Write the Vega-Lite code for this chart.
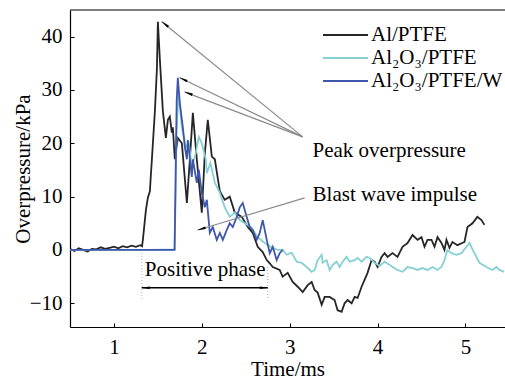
{
  "$schema": "https://vega.github.io/schema/vega-lite/v6.json",
  "width": 435,
  "height": 317,
  "autosize": {"type": "none"},
  "padding": {"left": 70, "top": 10, "right": 0, "bottom": 54},
  "background": "white",
  "config": {
    "view": {"stroke": null},
    "axis": {
      "labelFontSize": 21, "titleFontSize": 21, "titleFontWeight": "normal",
      "labelColor": "black", "titleColor": "black",
      "domainColor": "black", "tickColor": "black", "domainWidth": 1.2,
      "grid": false, "tickSize": -4
    }
  },
  "datasets": {
    "series": [
      {"s":"Al/PTFE","t":0.5,"v":0.2},{"s":"Al/PTFE","t":0.55,"v":-0.2},{"s":"Al/PTFE","t":0.6,"v":0.3},{"s":"Al/PTFE","t":0.65,"v":0},{"s":"Al/PTFE","t":0.7,"v":-0.3},{"s":"Al/PTFE","t":0.75,"v":0.2},{"s":"Al/PTFE","t":0.8,"v":0.1},{"s":"Al/PTFE","t":0.85,"v":0.5},{"s":"Al/PTFE","t":0.9,"v":0.2},{"s":"Al/PTFE","t":0.95,"v":0.4},{"s":"Al/PTFE","t":1.0,"v":0.6},{"s":"Al/PTFE","t":1.05,"v":0.3},{"s":"Al/PTFE","t":1.1,"v":0.7},{"s":"Al/PTFE","t":1.15,"v":0.5},{"s":"Al/PTFE","t":1.2,"v":0.8},{"s":"Al/PTFE","t":1.25,"v":0.6},{"s":"Al/PTFE","t":1.3,"v":0.9},{"s":"Al/PTFE","t":1.32,"v":0.7},{"s":"Al/PTFE","t":1.33,"v":2},{"s":"Al/PTFE","t":1.364,"v":7.5},{"s":"Al/PTFE","t":1.386,"v":9.8},{"s":"Al/PTFE","t":1.409,"v":11},{"s":"Al/PTFE","t":1.42,"v":14},{"s":"Al/PTFE","t":1.432,"v":17},{"s":"Al/PTFE","t":1.466,"v":26},{"s":"Al/PTFE","t":1.489,"v":34},{"s":"Al/PTFE","t":1.5,"v":42.8},{"s":"Al/PTFE","t":1.523,"v":35.6},{"s":"Al/PTFE","t":1.557,"v":26},{"s":"Al/PTFE","t":1.591,"v":21},{"s":"Al/PTFE","t":1.614,"v":24.4},{"s":"Al/PTFE","t":1.636,"v":25},{"s":"Al/PTFE","t":1.659,"v":22},{"s":"Al/PTFE","t":1.67,"v":23},{"s":"Al/PTFE","t":1.693,"v":17},{"s":"Al/PTFE","t":1.727,"v":21},{"s":"Al/PTFE","t":1.773,"v":20},{"s":"Al/PTFE","t":1.83,"v":8.8},{"s":"Al/PTFE","t":1.864,"v":17},{"s":"Al/PTFE","t":1.898,"v":25.7},{"s":"Al/PTFE","t":1.943,"v":17},{"s":"Al/PTFE","t":2.0,"v":7},{"s":"Al/PTFE","t":2.034,"v":18},{"s":"Al/PTFE","t":2.068,"v":24.4},{"s":"Al/PTFE","t":2.114,"v":17.5},{"s":"Al/PTFE","t":2.148,"v":17},{"s":"Al/PTFE","t":2.205,"v":11},{"s":"Al/PTFE","t":2.261,"v":9.4},{"s":"Al/PTFE","t":2.318,"v":10},{"s":"Al/PTFE","t":2.375,"v":7},{"s":"Al/PTFE","t":2.455,"v":6.2},{"s":"Al/PTFE","t":2.523,"v":4.3},{"s":"Al/PTFE","t":2.58,"v":3.2},{"s":"Al/PTFE","t":2.636,"v":0.6},{"s":"Al/PTFE","t":2.693,"v":-0.4},{"s":"Al/PTFE","t":2.739,"v":-1.9},{"s":"Al/PTFE","t":2.773,"v":-2.5},{"s":"Al/PTFE","t":2.807,"v":-3.2},{"s":"Al/PTFE","t":2.886,"v":-3.75},{"s":"Al/PTFE","t":2.92,"v":-5},{"s":"Al/PTFE","t":2.977,"v":-4.3},{"s":"Al/PTFE","t":3.034,"v":-6},{"s":"Al/PTFE","t":3.091,"v":-6.9},{"s":"Al/PTFE","t":3.148,"v":-7.9},{"s":"Al/PTFE","t":3.205,"v":-6.6},{"s":"Al/PTFE","t":3.25,"v":-6},{"s":"Al/PTFE","t":3.284,"v":-7.5},{"s":"Al/PTFE","t":3.318,"v":-8},{"s":"Al/PTFE","t":3.364,"v":-10.3},{"s":"Al/PTFE","t":3.398,"v":-8.8},{"s":"Al/PTFE","t":3.455,"v":-8.8},{"s":"Al/PTFE","t":3.511,"v":-9.4},{"s":"Al/PTFE","t":3.545,"v":-11.3},{"s":"Al/PTFE","t":3.591,"v":-11.6},{"s":"Al/PTFE","t":3.625,"v":-10},{"s":"Al/PTFE","t":3.659,"v":-9.4},{"s":"Al/PTFE","t":3.705,"v":-10},{"s":"Al/PTFE","t":3.739,"v":-8.8},{"s":"Al/PTFE","t":3.773,"v":-9},{"s":"Al/PTFE","t":3.818,"v":-6.9},{"s":"Al/PTFE","t":3.852,"v":-5.6},{"s":"Al/PTFE","t":3.886,"v":-4.3},{"s":"Al/PTFE","t":3.932,"v":-1.9},{"s":"Al/PTFE","t":3.966,"v":-2.2},{"s":"Al/PTFE","t":4.0,"v":-3.2},{"s":"Al/PTFE","t":4.045,"v":-1.3},{"s":"Al/PTFE","t":4.08,"v":-0.6},{"s":"Al/PTFE","t":4.114,"v":-1.3},{"s":"Al/PTFE","t":4.17,"v":-0.6},{"s":"Al/PTFE","t":4.227,"v":-1.3},{"s":"Al/PTFE","t":4.284,"v":0.6},{"s":"Al/PTFE","t":4.341,"v":1.3},{"s":"Al/PTFE","t":4.398,"v":2.8},{"s":"Al/PTFE","t":4.455,"v":1.9},{"s":"Al/PTFE","t":4.5,"v":2.4},{"s":"Al/PTFE","t":4.534,"v":0.6},{"s":"Al/PTFE","t":4.568,"v":1.9},{"s":"Al/PTFE","t":4.614,"v":1.9},{"s":"Al/PTFE","t":4.648,"v":0.6},{"s":"Al/PTFE","t":4.682,"v":2.4},{"s":"Al/PTFE","t":4.727,"v":1.3},{"s":"Al/PTFE","t":4.761,"v":0},{"s":"Al/PTFE","t":4.784,"v":1.9},{"s":"Al/PTFE","t":4.818,"v":0.4},{"s":"Al/PTFE","t":4.852,"v":1.5},{"s":"Al/PTFE","t":4.909,"v":0.9},{"s":"Al/PTFE","t":4.989,"v":1.5},{"s":"Al/PTFE","t":5.023,"v":4.3},{"s":"Al/PTFE","t":5.08,"v":5},{"s":"Al/PTFE","t":5.136,"v":6.2},{"s":"Al/PTFE","t":5.182,"v":5.6},{"s":"Al/PTFE","t":5.216,"v":4.7},
      {"s":"Al₂O₃/PTFE","t":0.5,"v":0},{"s":"Al₂O₃/PTFE","t":0.8,"v":0},{"s":"Al₂O₃/PTFE","t":1.1,"v":0},{"s":"Al₂O₃/PTFE","t":1.4,"v":0},{"s":"Al₂O₃/PTFE","t":1.69,"v":0.1},{"s":"Al₂O₃/PTFE","t":1.702,"v":10},{"s":"Al₂O₃/PTFE","t":1.712,"v":22},{"s":"Al₂O₃/PTFE","t":1.735,"v":29.6},{"s":"Al₂O₃/PTFE","t":1.773,"v":23},{"s":"Al₂O₃/PTFE","t":1.818,"v":19.3},{"s":"Al₂O₃/PTFE","t":1.852,"v":20},{"s":"Al₂O₃/PTFE","t":1.886,"v":15.6},{"s":"Al₂O₃/PTFE","t":1.932,"v":18.2},{"s":"Al₂O₃/PTFE","t":1.966,"v":21.2},{"s":"Al₂O₃/PTFE","t":2.0,"v":20},{"s":"Al₂O₃/PTFE","t":2.045,"v":17},{"s":"Al₂O₃/PTFE","t":2.057,"v":14.4},{"s":"Al₂O₃/PTFE","t":2.098,"v":16.3},{"s":"Al₂O₃/PTFE","t":2.148,"v":12.6},{"s":"Al₂O₃/PTFE","t":2.205,"v":10.7},{"s":"Al₂O₃/PTFE","t":2.261,"v":8},{"s":"Al₂O₃/PTFE","t":2.318,"v":6.2},{"s":"Al₂O₃/PTFE","t":2.375,"v":7},{"s":"Al₂O₃/PTFE","t":2.432,"v":5.6},{"s":"Al₂O₃/PTFE","t":2.489,"v":5},{"s":"Al₂O₃/PTFE","t":2.557,"v":4.3},{"s":"Al₂O₃/PTFE","t":2.636,"v":2.4},{"s":"Al₂O₃/PTFE","t":2.716,"v":1.3},{"s":"Al₂O₃/PTFE","t":2.784,"v":0.6},{"s":"Al₂O₃/PTFE","t":2.864,"v":0},{"s":"Al₂O₃/PTFE","t":2.92,"v":0},{"s":"Al₂O₃/PTFE","t":2.966,"v":-0.9},{"s":"Al₂O₃/PTFE","t":3.02,"v":-0.5},{"s":"Al₂O₃/PTFE","t":3.08,"v":-2.2},{"s":"Al₂O₃/PTFE","t":3.136,"v":-2.4},{"s":"Al₂O₃/PTFE","t":3.193,"v":-3.2},{"s":"Al₂O₃/PTFE","t":3.25,"v":-4.1},{"s":"Al₂O₃/PTFE","t":3.284,"v":-3.75},{"s":"Al₂O₃/PTFE","t":3.318,"v":-1.9},{"s":"Al₂O₃/PTFE","t":3.364,"v":-0.9},{"s":"Al₂O₃/PTFE","t":3.375,"v":-2.4},{"s":"Al₂O₃/PTFE","t":3.42,"v":-1.9},{"s":"Al₂O₃/PTFE","t":3.455,"v":-3.75},{"s":"Al₂O₃/PTFE","t":3.489,"v":-2.8},{"s":"Al₂O₃/PTFE","t":3.534,"v":-2.2},{"s":"Al₂O₃/PTFE","t":3.568,"v":-3.2},{"s":"Al₂O₃/PTFE","t":3.602,"v":-2.2},{"s":"Al₂O₃/PTFE","t":3.648,"v":-1.3},{"s":"Al₂O₃/PTFE","t":3.682,"v":-2.2},{"s":"Al₂O₃/PTFE","t":3.739,"v":-1.9},{"s":"Al₂O₃/PTFE","t":3.773,"v":-1.5},{"s":"Al₂O₃/PTFE","t":3.818,"v":-2.2},{"s":"Al₂O₃/PTFE","t":3.875,"v":-1.3},{"s":"Al₂O₃/PTFE","t":3.909,"v":-1.5},{"s":"Al₂O₃/PTFE","t":3.966,"v":-2.4},{"s":"Al₂O₃/PTFE","t":4.023,"v":-3},{"s":"Al₂O₃/PTFE","t":4.08,"v":-2.2},{"s":"Al₂O₃/PTFE","t":4.136,"v":-2.8},{"s":"Al₂O₃/PTFE","t":4.17,"v":-3.2},{"s":"Al₂O₃/PTFE","t":4.227,"v":-3.75},{"s":"Al₂O₃/PTFE","t":4.284,"v":-4.1},{"s":"Al₂O₃/PTFE","t":4.341,"v":-3.2},{"s":"Al₂O₃/PTFE","t":4.398,"v":-3.4},{"s":"Al₂O₃/PTFE","t":4.455,"v":-3.75},{"s":"Al₂O₃/PTFE","t":4.511,"v":-3.4},{"s":"Al₂O₃/PTFE","t":4.568,"v":-3.75},{"s":"Al₂O₃/PTFE","t":4.625,"v":-3.2},{"s":"Al₂O₃/PTFE","t":4.682,"v":-3.75},{"s":"Al₂O₃/PTFE","t":4.727,"v":-3.2},{"s":"Al₂O₃/PTFE","t":4.761,"v":-1.9},{"s":"Al₂O₃/PTFE","t":4.795,"v":0},{"s":"Al₂O₃/PTFE","t":4.841,"v":-0.6},{"s":"Al₂O₃/PTFE","t":4.898,"v":-0.9},{"s":"Al₂O₃/PTFE","t":4.955,"v":-0.6},{"s":"Al₂O₃/PTFE","t":5.011,"v":0.6},{"s":"Al₂O₃/PTFE","t":5.045,"v":1.3},{"s":"Al₂O₃/PTFE","t":5.102,"v":-0.6},{"s":"Al₂O₃/PTFE","t":5.159,"v":-2.4},{"s":"Al₂O₃/PTFE","t":5.239,"v":-3.2},{"s":"Al₂O₃/PTFE","t":5.307,"v":-3.75},{"s":"Al₂O₃/PTFE","t":5.352,"v":-3.2},{"s":"Al₂O₃/PTFE","t":5.386,"v":-3.75},{"s":"Al₂O₃/PTFE","t":5.44,"v":-4.1},
      {"s":"Al₂O₃/PTFE/W","t":0.5,"v":0},{"s":"Al₂O₃/PTFE/W","t":0.8,"v":0},{"s":"Al₂O₃/PTFE/W","t":1.1,"v":0},{"s":"Al₂O₃/PTFE/W","t":1.4,"v":0},{"s":"Al₂O₃/PTFE/W","t":1.69,"v":0},{"s":"Al₂O₃/PTFE/W","t":1.7,"v":12},{"s":"Al₂O₃/PTFE/W","t":1.714,"v":28},{"s":"Al₂O₃/PTFE/W","t":1.727,"v":32.3},{"s":"Al₂O₃/PTFE/W","t":1.75,"v":27.5},{"s":"Al₂O₃/PTFE/W","t":1.784,"v":23},{"s":"Al₂O₃/PTFE/W","t":1.807,"v":19.3},{"s":"Al₂O₃/PTFE/W","t":1.83,"v":17},{"s":"Al₂O₃/PTFE/W","t":1.841,"v":20.6},{"s":"Al₂O₃/PTFE/W","t":1.886,"v":13.7},{"s":"Al₂O₃/PTFE/W","t":1.898,"v":17},{"s":"Al₂O₃/PTFE/W","t":1.943,"v":12.6},{"s":"Al₂O₃/PTFE/W","t":1.966,"v":15},{"s":"Al₂O₃/PTFE/W","t":2.0,"v":10.7},{"s":"Al₂O₃/PTFE/W","t":2.034,"v":8},{"s":"Al₂O₃/PTFE/W","t":2.057,"v":9.4},{"s":"Al₂O₃/PTFE/W","t":2.091,"v":3.2},{"s":"Al₂O₃/PTFE/W","t":2.125,"v":4.3},{"s":"Al₂O₃/PTFE/W","t":2.17,"v":1.9},{"s":"Al₂O₃/PTFE/W","t":2.205,"v":3.2},{"s":"Al₂O₃/PTFE/W","t":2.239,"v":1.9},{"s":"Al₂O₃/PTFE/W","t":2.284,"v":3.75},{"s":"Al₂O₃/PTFE/W","t":2.318,"v":5},{"s":"Al₂O₃/PTFE/W","t":2.352,"v":4.3},{"s":"Al₂O₃/PTFE/W","t":2.398,"v":6.2},{"s":"Al₂O₃/PTFE/W","t":2.432,"v":8},{"s":"Al₂O₃/PTFE/W","t":2.466,"v":8.8},{"s":"Al₂O₃/PTFE/W","t":2.511,"v":6.2},{"s":"Al₂O₃/PTFE/W","t":2.545,"v":4.3},{"s":"Al₂O₃/PTFE/W","t":2.58,"v":3.75},{"s":"Al₂O₃/PTFE/W","t":2.625,"v":1.9},{"s":"Al₂O₃/PTFE/W","t":2.659,"v":3.2},{"s":"Al₂O₃/PTFE/W","t":2.693,"v":5.6},{"s":"Al₂O₃/PTFE/W","t":2.739,"v":1.9},{"s":"Al₂O₃/PTFE/W","t":2.773,"v":-0.6},{"s":"Al₂O₃/PTFE/W","t":2.807,"v":0.6},{"s":"Al₂O₃/PTFE/W","t":2.852,"v":-1.9},{"s":"Al₂O₃/PTFE/W","t":2.886,"v":-0.6},{"s":"Al₂O₃/PTFE/W","t":2.92,"v":0}
    ],
    "pointers": [
      {"t":3.148,"v":21.2,"t2":1.545,"v2":42.8},
      {"t":3.148,"v":21.2,"t2":1.75,"v2":32.3},
      {"t":3.148,"v":21.2,"t2":1.807,"v2":29.6},
      {"t":3.17,"v":9.76,"t2":1.955,"v2":3.75}
    ],
    "heads": [
      {"t":1.591,"v":42.2,"a":309},
      {"t":1.801,"v":31.9,"a":295.6},
      {"t":1.86,"v":29.3,"a":291},
      {"t":2.009,"v":4.0,"a":253.4},
      {"t":1.375,"v":-7.1,"a":270},
      {"t":2.693,"v":-7.1,"a":90}
    ],
    "phase": [{"t":1.318,"v":-7.1,"t2":2.75,"v2":-7.1}],
    "guides": [
      {"t":1.318,"v":-0.6,"t2":1.318,"v2":-9.2},
      {"t":2.75,"v":-3.2,"t2":2.75,"v2":-9.2}
    ],
    "labels": [
      {"t":3.26,"v":18.6,"label":"Peak overpressure"},
      {"t":3.26,"v":10.3,"label":"Blast wave impulse"},
      {"t":1.352,"v":-3.75,"label":"Positive phase"}
    ],
    "frame": [{"v":45}]
  },
  "layer": [
    {
      "data": {"name": "series"},
      "mark": {"type": "line", "strokeWidth": 1.8, "clip": true},
      "encoding": {
        "x": {"field": "t", "type": "quantitative", "scale": {"domain": [0.5, 5.45], "nice": false, "zero": false},
              "axis": {"values": [1,2,3,4,5], "format": "d", "title": "Time/ms", "labelPadding": 13, "titlePadding": 1,
                       "labelFont": "Liberation Serif", "labelFontWeight": 400,
                       "titleFont": "Liberation Serif", "titleFontWeight": 400}},
        "y": {"field": "v", "type": "quantitative", "scale": {"domain": [-14.45, 45], "nice": false, "zero": false},
              "axis": {"values": [-10,0,10,20,30,40], "format": "d", "title": "Overpressure/kPa", "labelPadding": 12, "titlePadding": -4,
                       "labelFont": "Liberation Serif", "labelFontWeight": 400,
                       "titleFont": "Liberation Serif", "titleFontWeight": 400}},
        "color": {"field": "s", "type": "nominal",
          "scale": {"domain": ["Al/PTFE", "Al₂O₃/PTFE", "Al₂O₃/PTFE/W"], "range": ["#262626", "#86d0d3", "#3f56ad"]},
          "legend": {"orient": "none", "legendX": 263, "legendY": 12.5, "title": null,
            "labelFont": "Liberation Serif", "labelFontWeight": "normal", "labelFontSize": 21, "labelColor": "black",
            "symbolType": "M-2,0L2,0", "symbolSize": 506, "symbolStrokeWidth": 2,
            "rowPadding": -1.5, "labelOffset": 13, "labelLimit": 300}}
      }
    },
    {
      "data": {"name": "frame"},
      "mark": {"type": "rule", "color": "black", "strokeWidth": 1.2},
      "encoding": {"y": {"field": "v", "type": "quantitative"}}
    },
    {
      "data": {"name": "pointers"},
      "mark": {"type": "rule", "color": "#8a8a8a", "strokeWidth": 1.2},
      "encoding": {
        "x": {"field": "t", "type": "quantitative"}, "y": {"field": "v", "type": "quantitative"},
        "x2": {"field": "t2"}, "y2": {"field": "v2"}
      }
    },
    {
      "data": {"name": "guides"},
      "mark": {"type": "rule", "color": "#aaaaaa", "strokeWidth": 1, "strokeDash": [1, 2]},
      "encoding": {
        "x": {"field": "t", "type": "quantitative"}, "y": {"field": "v", "type": "quantitative"},
        "x2": {"field": "t2"}, "y2": {"field": "v2"}
      }
    },
    {
      "data": {"name": "phase"},
      "mark": {"type": "rule", "color": "black", "strokeWidth": 1.5},
      "encoding": {
        "x": {"field": "t", "type": "quantitative"}, "y": {"field": "v", "type": "quantitative"},
        "x2": {"field": "t2"}, "y2": {"field": "v2"}
      }
    },
    {
      "data": {"name": "heads"},
      "mark": {"type": "point", "shape": "wedge", "filled": true, "color": "black", "size": 110, "opacity": 1},
      "encoding": {
        "x": {"field": "t", "type": "quantitative"}, "y": {"field": "v", "type": "quantitative"},
        "angle": {"field": "a", "type": "quantitative", "scale": null}
      }
    },
    {
      "data": {"name": "labels"},
      "mark": {"type": "text", "align": "left", "baseline": "middle", "font": "Liberation Serif", "fontSize": 21, "color": "black"},
      "encoding": {
        "x": {"field": "t", "type": "quantitative"}, "y": {"field": "v", "type": "quantitative"},
        "text": {"field": "label"}
      }
    }
  ]
}
